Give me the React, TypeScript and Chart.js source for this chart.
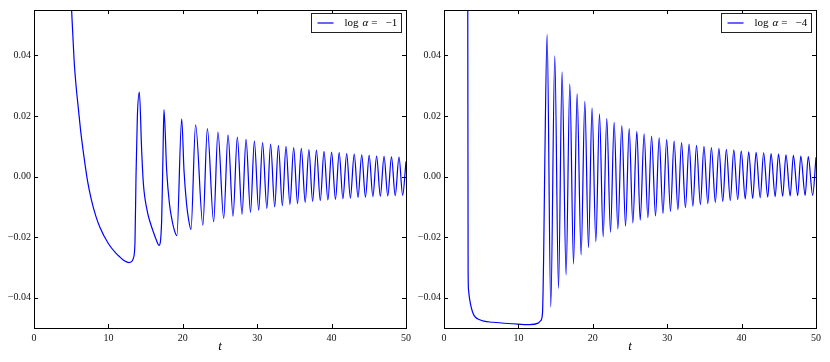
import React, { useEffect, useRef } from "react";
import { Chart, registerables } from "chart.js";
Chart.register(...registerables);

// ---------- axes ----------
const xTicks = [0, 10, 20, 30, 40, 50];
const yTicks = [-0.04, -0.02, 0, 0.02, 0.04];
const X_MIN = 0;
const X_MAX = 50;
const Y_MIN = -0.05;
const Y_MAX = 0.055;

// ---------- left panel: log alpha = -1 ----------
const leftLegendValue = "−1";
const leftOnsetT = [4.7, 5.06, 5.38, 5.66, 5.96, 6.3, 6.72, 7.2, 7.7, 8.3, 8.87, 9.99, 11.0, 11.56, 12.2, 13.1, 13.35, 13.57, 13.71, 13.89];
const leftOnsetV = [0.075, 0.0548, 0.0388, 0.0298, 0.0225, 0.0145, 0.0065, -0.0015, -0.0075, -0.013, -0.0168, -0.0221, -0.0253, -0.0266, -0.0279, -0.0281, -0.027, -0.022, 0.0, 0.0196];
const leftShapeT = [14.47, 14.7, 15.23, 15.6, 16.0, 16.4, 17.16, 17.34, 17.83, 18.2, 18.6, 18.9, 20.16, 20.5, 20.8];
const leftShapeV = [0.0087, -0.0023, -0.0115, -0.015, -0.018, -0.0207, -0.0144, 0.0076, 0.0021, -0.0089, -0.015, -0.018, 0.0021, -0.0089, -0.0145];
const leftPeakT = [14.16, 17.47, 19.85, 21.72, 23.3, 24.72, 26.08, 27.33, 28.5, 29.62, 30.72, 31.8, 32.85, 33.87, 34.9, 35.93, 36.95, 37.96, 38.98, 40.0, 41.02, 42.03, 43.04, 44.05, 45.05, 46.05, 47.05, 48.05, 49.06];
const leftPeakV = [0.0279, 0.0221, 0.0191, 0.0171, 0.0158, 0.0147, 0.0138, 0.013, 0.0123, 0.0117, 0.0112, 0.0107, 0.0103, 0.01, 0.0096, 0.0093, 0.0089, 0.0087, 0.0083, 0.0081, 0.0079, 0.0076, 0.0074, 0.0072, 0.007, 0.0068, 0.0067, 0.0065, 0.0064];
const leftTroughT = [12.77, 16.8, 19.2, 21.1, 22.7, 24.15, 25.5, 26.75, 27.96, 29.1, 30.2, 31.3, 32.35, 33.38, 34.4, 35.42, 36.45, 37.45, 38.48, 39.5, 40.52, 41.52, 42.52, 43.55, 44.55, 45.55, 46.55, 47.55, 48.55, 49.55];
const leftTroughV = [-0.0284, -0.0227, -0.0195, -0.0175, -0.016, -0.0149, -0.0138, -0.0131, -0.0124, -0.0118, -0.0111, -0.0105, -0.01, -0.0096, -0.0092, -0.0089, -0.0085, -0.0082, -0.0079, -0.0077, -0.0075, -0.0073, -0.0071, -0.0069, -0.0068, -0.0066, -0.0065, -0.0064, -0.0063, -0.0062];
const leftEndT = [50.0];
const leftEndV = [0.005];

// ---------- right panel: log alpha = -4 ----------
const rightLegendValue = "−4";
const rightOnsetT = [3.18, 3.24, 3.3, 3.46, 3.9, 4.8, 6.6, 9.3, 11.5, 12.65, 13.0, 13.24, 13.4, 13.55];
const rightOnsetV = [0.09, -0.03, -0.0375, -0.0407, -0.0451, -0.0473, -0.0481, -0.0486, -0.0489, -0.0484, -0.0476, -0.045, -0.025, 0.005];
const rightPeakT = [13.86, 14.89, 15.87, 16.91, 17.89, 18.93, 19.9, 20.9, 21.88, 22.87, 23.9, 24.89, 25.92, 26.9, 27.9, 28.92, 29.93, 30.93, 31.93, 32.94, 33.94, 34.94, 35.94, 36.95, 37.95, 38.95, 39.95, 40.95, 41.95, 42.96, 43.96, 44.96, 45.96, 46.96, 47.96, 48.96, 50.0];
const rightPeakV = [0.047, 0.0399, 0.0346, 0.0306, 0.0273, 0.0248, 0.0226, 0.0207, 0.0192, 0.0179, 0.0168, 0.0158, 0.0149, 0.0141, 0.0134, 0.0128, 0.0122, 0.0117, 0.0112, 0.0107, 0.0103, 0.01, 0.0096, 0.0093, 0.009, 0.0088, 0.0085, 0.0082, 0.008, 0.0078, 0.0076, 0.0074, 0.0072, 0.007, 0.0068, 0.0066, 0.0064];
const rightTroughT = [14.35, 15.39, 16.41, 17.41, 18.43, 19.42, 20.41, 21.39, 22.38, 23.37, 24.4, 25.38, 26.37, 27.4, 28.43, 29.43, 30.44, 31.44, 32.45, 33.45, 34.46, 35.46, 36.47, 37.47, 38.48, 39.48, 40.49, 41.49, 42.5, 43.51, 44.51, 45.52, 46.53, 47.54, 48.54, 49.55];
const rightTroughV = [-0.0431, -0.0369, -0.0325, -0.0289, -0.0259, -0.0235, -0.0215, -0.0199, -0.0184, -0.0173, -0.0164, -0.0153, -0.0144, -0.0136, -0.013, -0.0122, -0.0115, -0.0109, -0.0103, -0.0098, -0.0093, -0.0089, -0.0085, -0.0082, -0.0079, -0.0076, -0.0074, -0.0072, -0.007, -0.0068, -0.0066, -0.0065, -0.0064, -0.0063, -0.0062, -0.0062];

type Pt = { x: number; y: number };
function buildSeries(parts: [number[], number[]][]): Pt[] {
  const pts: Pt[] = [];
  for (const [ts, vs] of parts) ts.forEach((t, i) => pts.push({ x: t, y: vs[i] }));
  pts.sort((a, b) => a.x - b.x);
  return pts;
}

const SERIF = '"Liberation Serif", "DejaVu Serif", serif';

const framePlugin = {
  id: "mplFrame",
  afterDraw(chart: any, _args: any, opts: any) {
    const { ctx, chartArea: a, scales } = chart;
    ctx.save();
    ctx.strokeStyle = "#000";
    ctx.lineWidth = 1;
    const L = 4;
    ctx.beginPath();
    for (const v of xTicks) {
      const px = Math.round(scales.x.getPixelForValue(v)) + 0.5;
      ctx.moveTo(px, a.bottom);
      ctx.lineTo(px, a.bottom - L);
      ctx.moveTo(px, a.top);
      ctx.lineTo(px, a.top + L);
    }
    for (const v of yTicks) {
      const py = Math.round(scales.y.getPixelForValue(v)) + 0.5;
      ctx.moveTo(a.left, py);
      ctx.lineTo(a.left + L, py);
      ctx.moveTo(a.right, py);
      ctx.lineTo(a.right - L, py);
    }
    ctx.stroke();
    ctx.strokeRect(Math.round(a.left) + 0.5, Math.round(a.top) + 0.5, Math.round(a.right - a.left), Math.round(a.bottom - a.top));

    // legend
    const bw = 90, bh = 19;
    const bx = Math.round(a.right - 5 - bw) + 0.5;
    const by = Math.round(a.top + 3) + 0.5;
    ctx.fillStyle = "#fff";
    ctx.fillRect(bx, by, bw, bh);
    ctx.strokeStyle = "#222";
    ctx.strokeRect(bx, by, bw, bh);
    const cy = by + bh / 2;
    ctx.strokeStyle = "#0000ff";
    ctx.lineWidth = 1.2;
    ctx.beginPath();
    ctx.moveTo(bx + 6, cy);
    ctx.lineTo(bx + 22, cy);
    ctx.stroke();
    ctx.fillStyle = "#000";
    ctx.textBaseline = "middle";
    ctx.textAlign = "left";
    let tx = bx + 33;
    ctx.font = `11px ${SERIF}`;
    ctx.fillText("log", tx, cy);
    tx += ctx.measureText("log").width + 4;
    ctx.font = `italic 11px ${SERIF}`;
    ctx.fillText("α", tx, cy);
    tx += ctx.measureText("α").width + 3;
    ctx.font = `11px ${SERIF}`;
    ctx.fillText("=", tx, cy);
    tx += ctx.measureText("=").width + 8;
    ctx.fillText(opts.legendValue, tx, cy);

    // x title
    ctx.font = `italic 13px ${SERIF}`;
    ctx.textAlign = "center";
    ctx.textBaseline = "middle";
    ctx.fillText("t", (a.left + a.right) / 2, 347);
    ctx.restore();
  },
};

function Panel(props: { data: Pt[]; legendValue: string; left: number; width: number; rightPad: number }) {
  const ref = useRef<HTMLCanvasElement | null>(null);
  useEffect(() => {
    if (!ref.current) return;
    const chart = new Chart(ref.current, {
      type: "line",
      data: {
        datasets: [
          {
            data: props.data,
            borderColor: "#0000ff",
            borderWidth: 1.2,
            pointRadius: 0,
            fill: false,
            cubicInterpolationMode: "monotone",
          },
        ],
      },
      options: {
        responsive: false,
        animation: false,
        devicePixelRatio: 1,
        layout: { padding: { top: 10, right: props.rightPad, left: 0, bottom: 0 } },
        plugins: {
          legend: { display: false },
          tooltip: { enabled: false },
          mplFrame: { legendValue: props.legendValue },
        } as any,
        scales: {
          x: {
            type: "linear",
            min: X_MIN,
            max: X_MAX,
            grid: { display: false, drawTicks: false },
            border: { display: false },
            afterBuildTicks: (s: any) => {
              s.ticks = xTicks.map((v) => ({ value: v }));
            },
            afterFit: (s: any) => {
              s.height = 34;
            },
            ticks: {
              padding: 4,
              color: "#111",
              font: { family: SERIF, size: 10 },
              maxRotation: 0,
              callback: (v: any) => String(v),
            },
          },
          y: {
            type: "linear",
            min: Y_MIN,
            max: Y_MAX,
            grid: { display: false, drawTicks: false },
            border: { display: false },
            afterBuildTicks: (s: any) => {
              s.ticks = yTicks.map((v) => ({ value: v }));
            },
            afterFit: (s: any) => {
              s.width = 34;
            },
            ticks: {
              padding: 3,
              color: "#111",
              font: { family: SERIF, size: 10 },
              callback: (v: any) => Number(v).toFixed(2).replace("-", "−"),
            },
          },
        },
      },
      plugins: [framePlugin as any],
    });
    return () => chart.destroy();
  }, []);
  return (
    <canvas
      ref={ref}
      width={props.width}
      height={362}
      style={{ position: "absolute", left: props.left, top: 0, width: props.width, height: 362 }}
    />
  );
}

export default function App() {
  const leftData = buildSeries([
    [leftOnsetT, leftOnsetV],
    [leftShapeT, leftShapeV],
    [leftPeakT, leftPeakV],
    [leftTroughT, leftTroughV],
    [leftEndT, leftEndV],
  ]);
  const rightData = buildSeries([
    [rightOnsetT, rightOnsetV],
    [rightPeakT, rightPeakV],
    [rightTroughT, rightTroughV],
  ]);
  return (
    <div style={{ position: "absolute", left: 0, top: 0, width: 830, height: 362, background: "#fff" }}>
      <Panel data={leftData} legendValue={leftLegendValue} left={0} width={415} rightPad={9} />
      <Panel data={rightData} legendValue={rightLegendValue} left={410} width={420} rightPad={14} />
    </div>
  );
}
